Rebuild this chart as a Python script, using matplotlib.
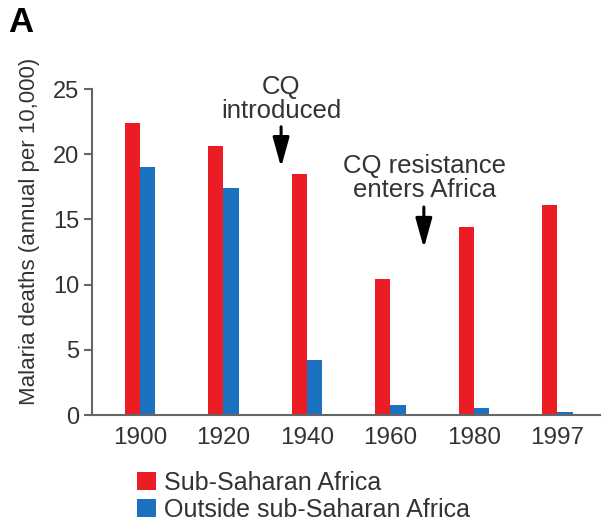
import matplotlib
matplotlib.use("Agg")
import matplotlib.pyplot as plt
import numpy as np

years = ["1900", "1920", "1940", "1960", "1980", "1997"]
sub_saharan = [22.4, 20.6, 18.5, 10.4, 14.4, 16.1]
outside = [19.0, 17.4, 4.2, 0.8, 0.5, 0.2]
yticks = [0, 5, 10, 15, 20, 25]

plt.rcParams['font.family'] = ['Liberation Sans', 'DejaVu Sans']

W, H = 605, 522
fig = plt.figure(figsize=(W/100, H/100), dpi=100)
ax = fig.add_axes([92/W, 1-415/H, (600-92)/W, (415-89)/H])

red = '#ec1c24'
blue = '#1b72c0'
x = np.arange(len(years))
bw = 0.182
ax.bar(x - bw/2, sub_saharan, bw, color=red, label='Sub-Saharan Africa')
ax.bar(x + bw/2, outside, bw, color=blue, label='Outside sub-Saharan Africa')

ax.set_xlim(-0.575, 5.51)
ax.set_ylim(0, 25)
ax.set_yticks(yticks)
ax.set_xticks(x)
ax.set_xticklabels(years)
for s in ['top', 'right']:
    ax.spines[s].set_visible(False)
for s in ['left', 'bottom']:
    ax.spines[s].set_color('#666666')
    ax.spines[s].set_linewidth(1.5)
ax.tick_params(axis='y', length=6, width=1.5, color='#666666', labelsize=17, labelcolor='#333333', pad=3)
ax.tick_params(axis='x', length=0, labelsize=17.5, labelcolor='#333333', pad=9)

fig.text(30/W, 1-231/H, 'Malaria deaths (annual per 10,000)', rotation=90,
         ha='center', va='center', fontsize=16, color='#333333')

fig.text(8/W, 1-22/H, 'A', fontsize=25, fontweight='bold', ha='left', va='center')

# annotations
aprops = dict(arrowstyle='-|>,head_width=0.5,head_length=1.8', color='black', lw=2.2,
              shrinkA=0, shrinkB=0)
ax.annotate('', xy=(1.69, 19.0), xytext=(1.69, 22.1), arrowprops=aprops)
ax.text(1.69, 24.2, 'CQ\nintroduced', ha='center', va='center', fontsize=18.5,
        color='#333333', linespacing=1.0, clip_on=False)
ax.annotate('', xy=(3.40, 12.8), xytext=(3.40, 15.95), arrowprops=aprops)
ax.text(3.41, 18.15, 'CQ resistance\nenters Africa', ha='center', va='center', fontsize=18.5,
        color='#333333', linespacing=1.0, clip_on=False)

# legend
leg = fig.legend(loc='upper left', bbox_to_anchor=(137/W, 1-471/H), frameon=False,
                 fontsize=18, handlelength=0.75, handleheight=0.75, handletextpad=0.35,
                 labelspacing=0.12, borderaxespad=0, borderpad=0)
for t in leg.get_texts():
    t.set_color('#333333')

fig.savefig('out.png', dpi=100)
